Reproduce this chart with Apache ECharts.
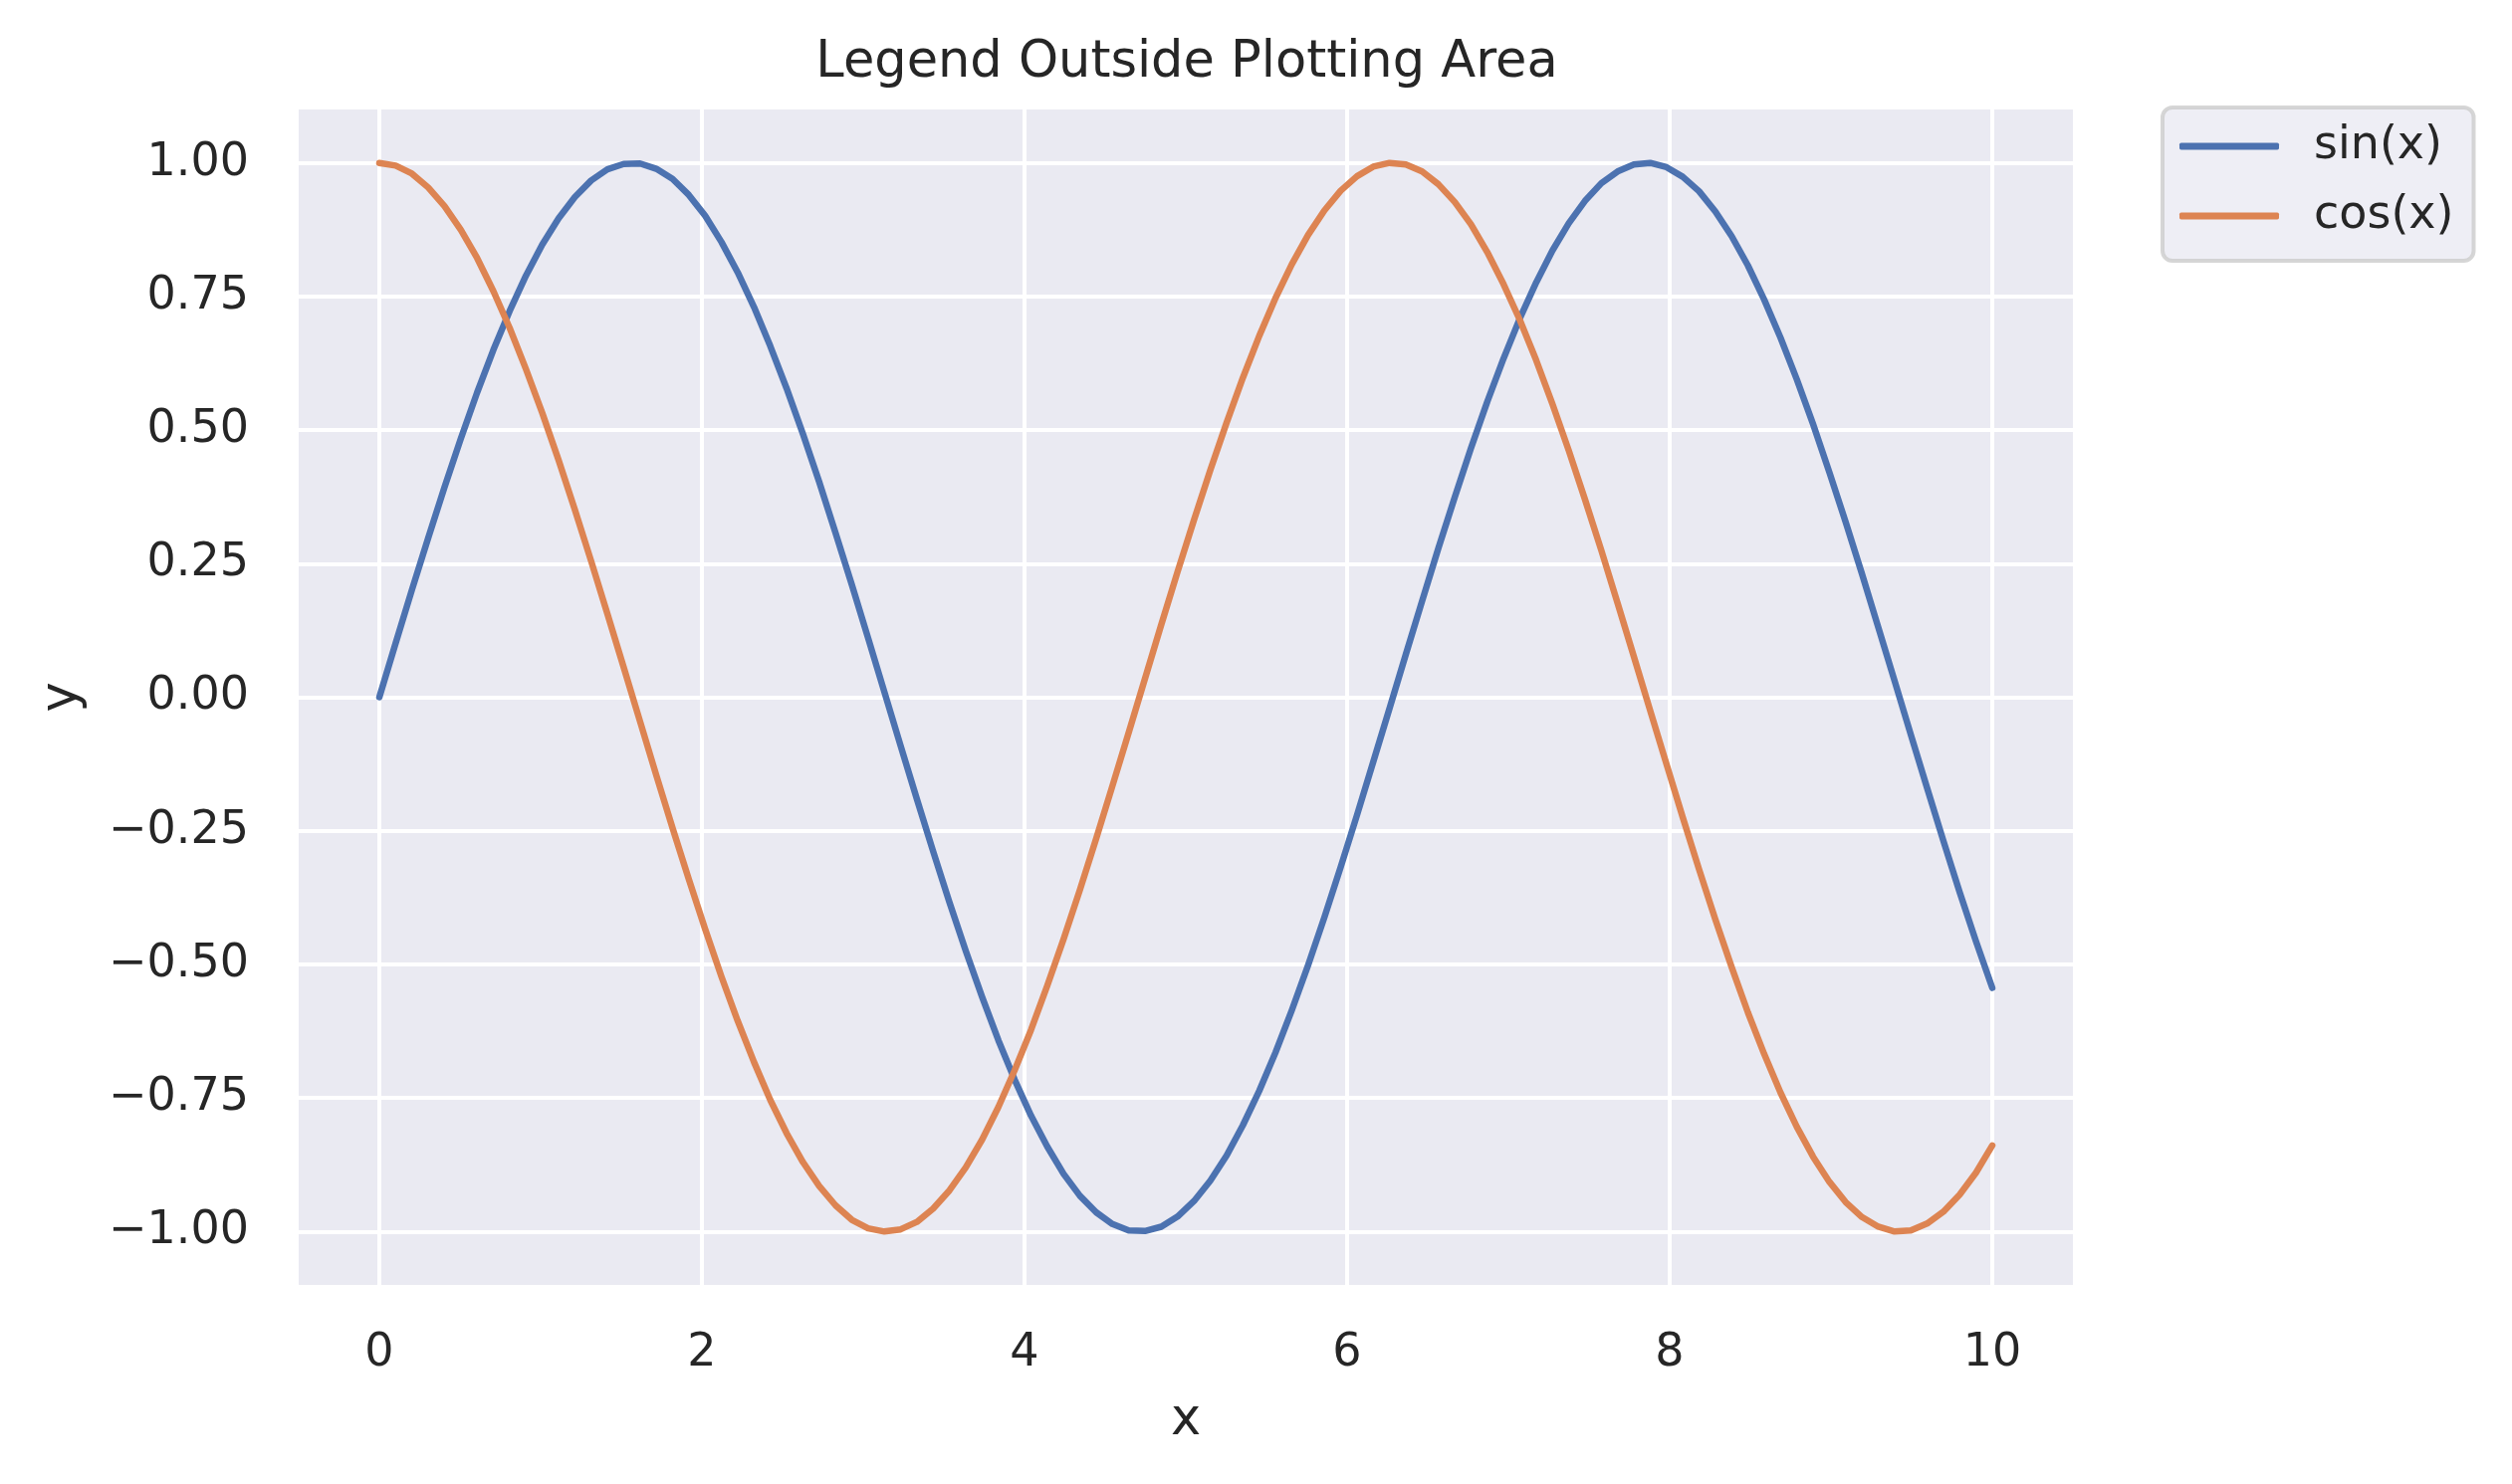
<!DOCTYPE html>
<html>
<head>
<meta charset="utf-8">
<script src="https://cdn.jsdelivr.net/npm/echarts@6/dist/echarts.min.js"></script>
<style>
html,body{margin:0;padding:0;background:#fff;}
#chart{width:2523px;height:1491px;}
</style>
</head>
<body>
<div id="chart"></div>
<script>
const xValues = [0,0.101,0.202,0.303,0.404,0.505,0.606,0.707,0.808,0.909,
1.010,1.111,1.212,1.313,1.414,1.515,1.616,1.717,1.818,1.919,
2.020,2.121,2.222,2.323,2.424,2.525,2.626,2.727,2.828,2.929,
3.030,3.131,3.232,3.333,3.434,3.535,3.636,3.737,3.838,3.939,
4.040,4.141,4.242,4.343,4.444,4.545,4.646,4.747,4.848,4.949,
5.051,5.152,5.253,5.354,5.455,5.556,5.657,5.758,5.859,5.960,
6.061,6.162,6.263,6.364,6.465,6.566,6.667,6.768,6.869,6.970,
7.071,7.172,7.273,7.374,7.475,7.576,7.677,7.778,7.879,7.980,
8.081,8.182,8.283,8.384,8.485,8.586,8.687,8.788,8.889,8.990,
9.091,9.192,9.293,9.394,9.495,9.596,9.697,9.798,9.899,10];

const sinValues = [0.000,0.101,0.201,0.298,0.393,0.484,0.570,0.650,0.723,0.789,
0.847,0.896,0.936,0.967,0.988,0.998,0.999,0.989,0.970,0.940,
0.901,0.852,0.795,0.730,0.657,0.578,0.493,0.403,0.308,0.211,
0.111,0.010,-0.091,-0.191,-0.289,-0.384,-0.475,-0.561,-0.642,-0.716,
-0.783,-0.841,-0.892,-0.933,-0.964,-0.986,-0.998,-0.999,-0.991,-0.972,
-0.943,-0.905,-0.858,-0.801,-0.737,-0.665,-0.586,-0.502,-0.412,-0.318,
-0.221,-0.121,-0.021,0.080,0.180,0.279,0.374,0.466,0.553,0.634,
0.709,0.776,0.836,0.887,0.929,0.962,0.984,0.997,1.000,0.992,
0.974,0.947,0.909,0.863,0.808,0.744,0.673,0.595,0.511,0.421,
0.328,0.231,0.131,0.031,-0.070,-0.170,-0.269,-0.365,-0.457,-0.544];

const cosValues = [1.000,0.995,0.980,0.954,0.919,0.875,0.822,0.760,0.691,0.614,
0.532,0.444,0.351,0.255,0.156,0.056,-0.045,-0.146,-0.245,-0.341,
-0.434,-0.523,-0.606,-0.683,-0.754,-0.816,-0.870,-0.915,-0.951,-0.978,
-0.994,-1.000,-0.996,-0.982,-0.957,-0.923,-0.880,-0.828,-0.767,-0.698,
-0.623,-0.540,-0.453,-0.361,-0.265,-0.166,-0.066,0.035,0.136,0.235,
0.332,0.425,0.514,0.598,0.676,0.747,0.810,0.865,0.911,0.948,
0.975,0.993,1.000,0.997,0.984,0.960,0.927,0.885,0.833,0.773,
0.706,0.631,0.549,0.462,0.370,0.275,0.176,0.076,-0.025,-0.125,
-0.225,-0.322,-0.416,-0.505,-0.590,-0.668,-0.740,-0.804,-0.860,-0.907,
-0.945,-0.973,-0.991,-1.000,-0.998,-0.985,-0.963,-0.931,-0.890,-0.839];

const xTicks = [0,2,4,6,8,10];
const yTicks = [-1,-0.75,-0.5,-0.25,0,0.25,0.5,0.75,1];
const seriesNames = ['sin(x)','cos(x)'];

const FONT = 'DejaVu Sans';
const TXT = '#262626';

const chart = echarts.init(document.getElementById('chart'), null, {renderer:'canvas'});

function pairs(ys){ return xValues.map((x,i)=>[x, ys[i]]); }

const option = {
  backgroundColor:'#ffffff',
  animation:false,
  title:{
    text:'Legend Outside Plotting Area',
    left:1187, top:33, textAlign:'center',
    textStyle:{fontFamily:FONT, fontSize:51, fontWeight:'normal', color:TXT}
  },
  legend:{
    orient:'vertical',
    left:2172, top:108,
    padding:[16,20,22,17],
    icon:'roundRect',
    itemWidth:100, itemHeight:7, itemGap:24,
    backgroundColor:'rgba(234,234,242,0.8)',
    borderColor:'rgba(204,204,204,0.8)', borderWidth:4, borderRadius:10,
    textStyle:{fontFamily:FONT, fontSize:46, color:TXT, padding:[0,0,0,30], lineHeight:46},
    data:seriesNames
  },
  grid:{
    left:300, right:441, top:110, bottom:200,
    show:true, backgroundColor:'#EAEAF2', borderWidth:0
  },
  xAxis:{
    type:'value', min:-0.5, max:10.5,
    name:'x', nameLocation:'middle', nameGap:111,
    nameTextStyle:{fontFamily:FONT, fontSize:51, color:TXT},
    axisLine:{show:false}, axisTick:{show:false, customValues:xTicks},
    axisLabel:{customValues:xTicks, fontFamily:FONT, fontSize:46, color:TXT, margin:46,
      formatter:v=>String(v)},
    splitLine:{show:true, lineStyle:{color:'#ffffff', width:4}}
  },
  yAxis:{
    type:'value', min:-1.1, max:1.1,
    name:'y', nameLocation:'middle', nameGap:212,
    nameTextStyle:{fontFamily:FONT, fontSize:51, color:TXT},
    axisLine:{show:false}, axisTick:{show:false, customValues:yTicks},
    axisLabel:{customValues:yTicks, fontFamily:FONT, fontSize:46, color:TXT, margin:50,
      formatter:v=>(v<0?'\u2212':'')+Math.abs(v).toFixed(2)},
    splitLine:{show:true, lineStyle:{color:'#ffffff', width:4}}
  },
  series:[
    {name:seriesNames[0], type:'line', data:pairs(sinValues), symbol:'none', smooth:false,
     lineStyle:{color:'#4C72B0', width:6.5, cap:'round', join:'round'}, itemStyle:{color:'#4C72B0'}},
    {name:seriesNames[1], type:'line', data:pairs(cosValues), symbol:'none', smooth:false,
     lineStyle:{color:'#DD8452', width:6.5, cap:'round', join:'round'}, itemStyle:{color:'#DD8452'}}
  ]
};
chart.setOption(option);
</script>
</body>
</html>
